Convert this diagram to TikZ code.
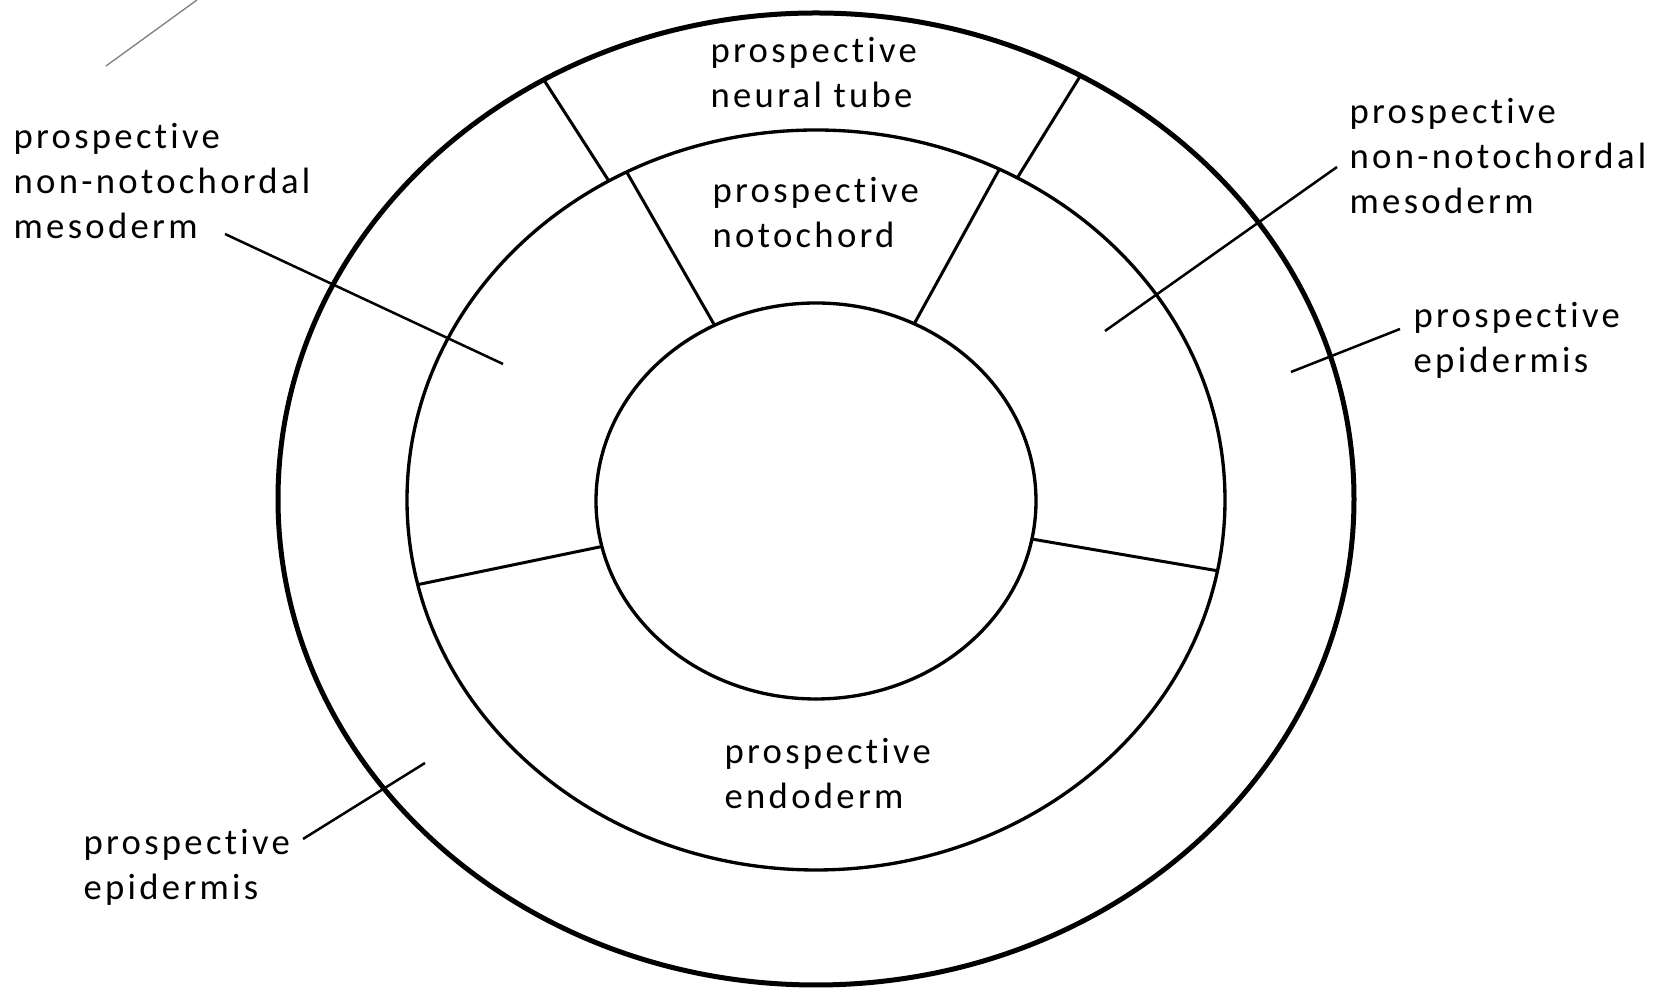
\documentclass[tikz,border=0pt]{standalone}
\usepackage{fontspec}
\setmainfont{Carlito}[LetterSpace=9, Ligatures={NoCommon}]
\usetikzlibrary{shapes.geometric}

\begin{document}
\begin{tikzpicture}[
    x=0.3pt, y=-0.3pt,
    layer/.style={ellipse, draw, inner sep=0pt, outer sep=0pt, line width=1pt},
    divider/.style={line width=0.9pt},
    leader/.style={line width=0.75pt},
    tag/.style={anchor=west, align=left, inner sep=0pt, font=\fontsize{11}{13.5}\selectfont}
]
    \useasboundingbox (0,0) rectangle (1666,989);

    % Layers
    \node[layer, line width=1.5pt, minimum width=322.8pt, minimum height=291.6pt] (outer) at (816,499) {};
    \node[layer, minimum width=245.4pt, minimum height=222pt] (middle) at (816,500) {};
    \node[layer, minimum width=132pt, minimum height=118.8pt] (inner) at (816,501) {};

    % Dividers
    \draw[divider] (outer.123) -- (middle.123);
    \draw[divider] (outer.58) -- (middle.58);
    \draw[divider] (middle.120) -- (inner.120);
    \draw[divider] (middle.61) -- (inner.61);
    \draw[divider] (middle.192) -- (inner.192);
    \draw[divider] (middle.350) -- (inner.350);

    % Labels
    \node[tag] (tube) at (710,73) {prospective\\neural tube};
    \node[tag] (noto) at (712,213) {prospective\\notochord};
    \node[tag] (endo) at (724,774) {prospective\\endoderm};
    \node[tag] (lmeso) at (13,181) {prospective\\non-notochordal\\mesoderm};
    \node[tag] (rmeso) at (1349,156) {prospective\\non-notochordal\\mesoderm};
    \node[tag] (repi) at (1413,340) {prospective\\epidermis};
    \node[tag] (lepi) at (83,867) {prospective\\epidermis};

    % Leaders
    \coordinate (lmeso-a) at (225,234);
    \coordinate (lmeso-b) at (503,364);
    \coordinate (rmeso-a) at (1337,167);
    \coordinate (rmeso-b) at (1105,331);
    \coordinate (repi-a) at (1400,329);
    \coordinate (repi-b) at (1291,372);
    \coordinate (lepi-a) at (303,839);
    \coordinate (lepi-b) at (425,763);
    \draw[leader] (lmeso-a) -- (lmeso-b);
    \draw[leader] (rmeso-a) -- (rmeso-b);
    \draw[leader] (repi-a) -- (repi-b);
    \draw[leader] (lepi-a) -- (lepi-b);

    % stray mark
    \coordinate (mark-a) at (106,66);
    \coordinate (mark-b) at (197,0);
    \draw[gray, line width=0.4pt] (mark-a) -- (mark-b);
\end{tikzpicture}
\end{document}
